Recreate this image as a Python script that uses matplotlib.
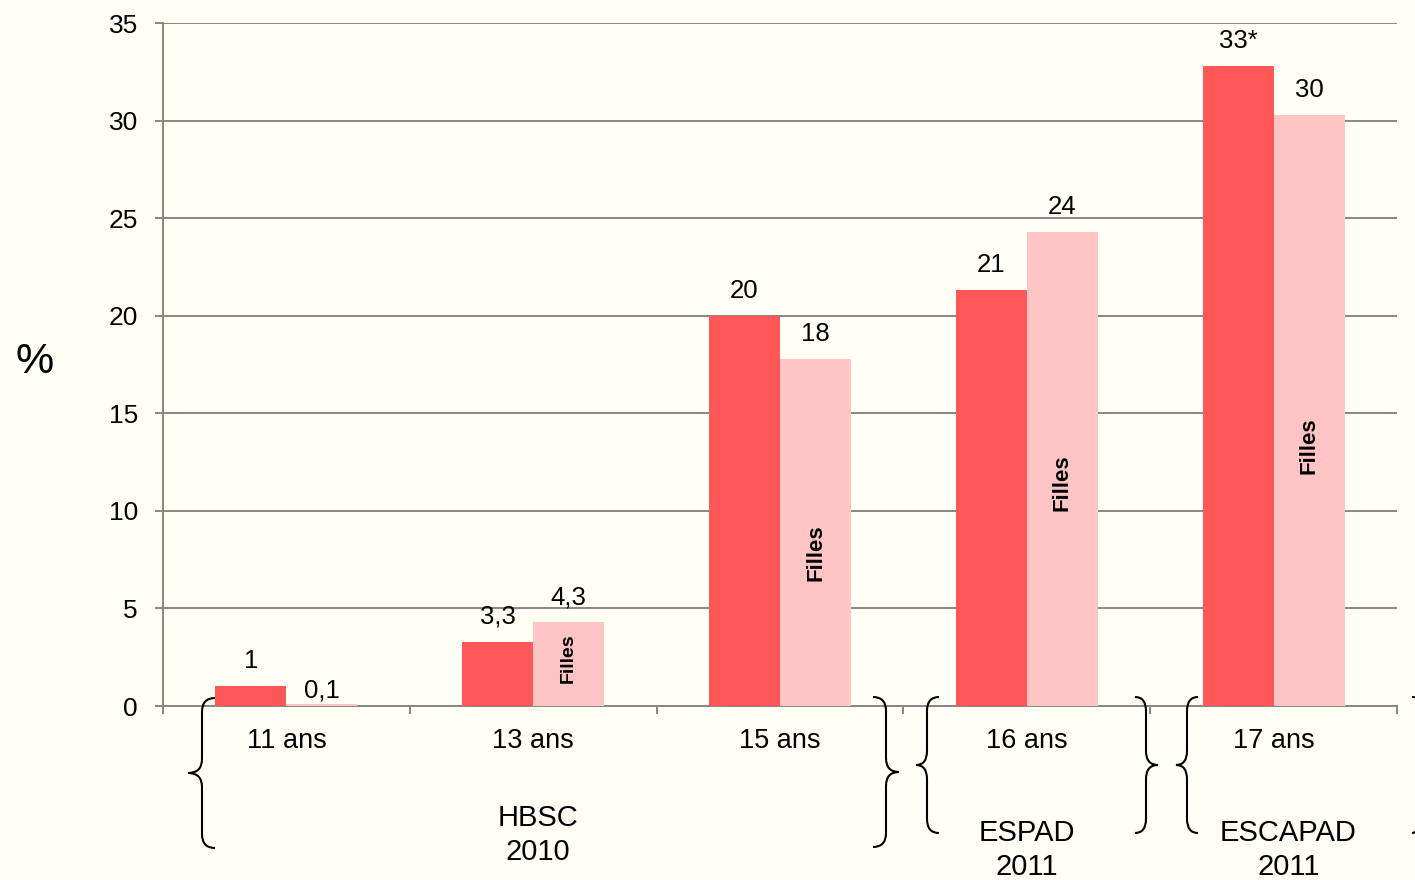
import matplotlib
matplotlib.use('Agg')
import matplotlib.pyplot as plt
import matplotlib.transforms as mtransforms
from matplotlib.path import Path
from matplotlib.patches import PathPatch

plt.rcParams['font.family'] = ['Liberation Sans', 'DejaVu Sans']

# data
ages = ['11 ans', '13 ans', '15 ans', '16 ans', '17 ans']
garcons = [1.0, 3.3, 20.0, 21.3, 32.8]
filles = [0.1, 4.3, 17.8, 24.3, 30.3]
garcons_labels = ['1', '3,3', '20', '21', '33*']
filles_labels = ['0,1', '4,3', '18', '24', '30']
surveys = ['HBSC\n2010', 'ESPAD\n2011', 'ESCAPAD\n2011']

W, H = 1415, 880
RED = '#FF5757'
PINK = '#FFC4C4'
BG = '#FFFFF5'
GRID = '#868686'

fig = plt.figure(figsize=(W / 100, H / 100), dpi=100, facecolor=BG)
ax = fig.add_axes([163 / W, 1 - 706 / H, (1397 - 163) / W, (706 - 23) / H])
ax.set_facecolor(BG)

# pixel coords (y down) -> figure
pix = mtransforms.Affine2D().scale(1 / W, -1 / H).translate(0, 1) + fig.transFigure

x = list(range(len(ages)))
w = 0.288
ax.bar([i - w / 2 for i in x], garcons, width=w, color=RED, zorder=3)
ax.bar([i + w / 2 for i in x], filles, width=w, color=PINK, zorder=3)

ax.set_xlim(-0.5, 4.5)
ax.set_ylim(0, 35)
ax.set_yticks(range(0, 36, 5))
ax.yaxis.grid(True, color=GRID, linewidth=1.4, zorder=0)
ax.set_axisbelow(True)
ax.tick_params(axis='y', length=6, width=1.4, color=GRID, pad=12, labelsize=19)

ax.set_xticks([i - 0.5 for i in range(len(ages) + 1)])
ax.set_xticklabels([])
ax.set_xticks(x, minor=True)
ax.set_xticklabels(ages, minor=True, fontsize=19.5)
ax.tick_params(axis='x', which='major', length=6, width=1.4, color=GRID, direction='out')
ax.tick_params(axis='x', which='minor', length=0, pad=16)

for s in ['top', 'right']:
    ax.spines[s].set_visible(False)
for s in ['left', 'bottom']:
    ax.spines[s].set_color(GRID)
    ax.spines[s].set_linewidth(1.4)

# value labels (offset in points above bar top)
for i in x:
    ax.annotate(garcons_labels[i], (i - w / 2, garcons[i]), xytext=(0, 18),
                textcoords='offset points', ha='center', va='center', fontsize=18.5)
    off = 10 if filles[i] < 0.5 else 18
    ax.annotate(filles_labels[i], (i + w / 2, filles[i]), xytext=(0, off),
                textcoords='offset points', ha='center', va='center', fontsize=18.5)

# "Filles" inside pink bars
filles_frac = [None, 0.57, 0.44, 0.47, 0.44]
filles_size = [0, 14, 16, 16, 16]
for i in x:
    if filles_frac[i] is None:
        continue
    ax.text(i + w / 2, filles[i] * filles_frac[i], 'Filles', rotation=90,
            ha='center', va='center', fontsize=filles_size[i], fontweight='bold', zorder=4)

fig.text(35 / W, 1 - 362 / H, '%', fontsize=31, ha='center', va='center')

# survey group labels
btf = mtransforms.blended_transform_factory(ax.transData, pix)
for xs, ys, label in [(1.02, 835, surveys[0]), (3.0, 850, surveys[1]), (4.06, 850, surveys[2])]:
    ax.text(xs, ys, label, transform=btf, ha='center', va='center',
            fontsize=21, linespacing=1.3, clip_on=False)


def brace(xe, xv, xt, y0, y1, r=14):
    ym = (y0 + y1) / 2
    verts = [(xe, y0), (xv, y0), (xv, y0 + r),
             (xv, ym - r), (xv, ym), (xt, ym),
             (xv, ym), (xv, ym + r),
             (xv, y1 - r), (xv, y1), (xe, y1)]
    codes = [Path.MOVETO, Path.CURVE3, Path.CURVE3,
             Path.LINETO, Path.CURVE3, Path.CURVE3,
             Path.CURVE3, Path.CURVE3,
             Path.LINETO, Path.CURVE3, Path.CURVE3]
    fig.patches.append(PathPatch(Path(verts, codes), transform=pix, fill=False,
                                 edgecolor='black', linewidth=1.5))


brace(215, 202, 188, 698, 848)
brace(873, 886, 899, 697, 847)
brace(939, 927, 916, 697, 833)
brace(1135, 1146, 1158, 697, 833)
brace(1198, 1187, 1176, 697, 833)
brace(1412, 1425, 1438, 697, 833)

fig.savefig('out.png', dpi=100, facecolor=BG)
